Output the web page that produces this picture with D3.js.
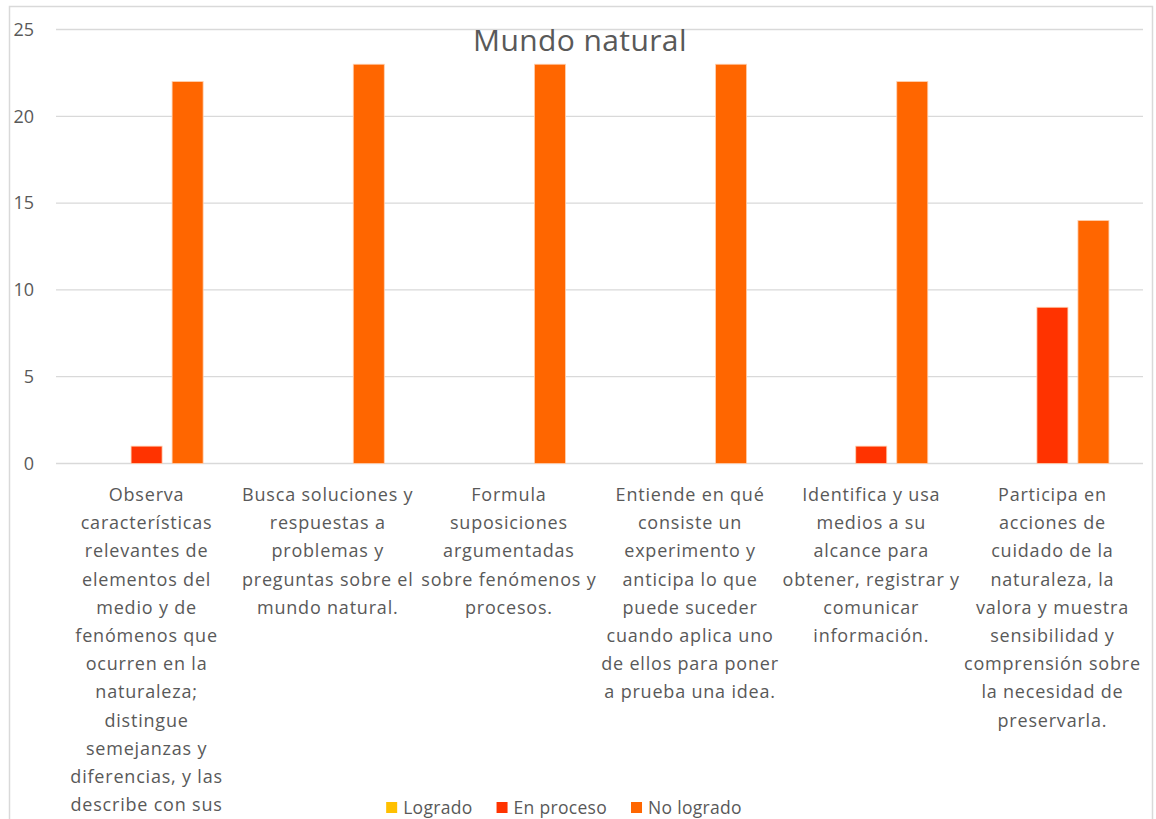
<!DOCTYPE html>
<html>
<head>
<meta charset="utf-8">
<script src="https://cdn.jsdelivr.net/npm/d3@7"></script>
<style>
  body { margin: 0; background: #fff; }
  svg { display: block; font-family: "Open Sans", sans-serif; }
  .grid line { stroke: #d9d9d9; stroke-width: 1.3; }
  .tick-label { fill: #595959; }
</style>
</head>
<body>
<svg id="chart" width="1156" height="819"></svg>
<script>
// Categories (label lines as wrapped in the original chart; the first one runs off the bottom)
const categories = [
  ['Observa', 'características', 'relevantes de', 'elementos del', 'medio y de', 'fenómenos que', 'ocurren en la', 'naturaleza;', 'distingue', 'semejanzas y', 'diferencias, y las', 'describe con sus'],
  ['Busca soluciones y', 'respuestas a', 'problemas y', 'preguntas sobre el', 'mundo natural.'],
  ['Formula', 'suposiciones', 'argumentadas', 'sobre fenómenos y', 'procesos.'],
  ['Entiende en qué', 'consiste un', 'experimento y', 'anticipa lo que', 'puede suceder', 'cuando aplica uno', 'de ellos para poner', 'a prueba una idea.'],
  ['Identifica y usa', 'medios a su', 'alcance para', 'obtener, registrar y', 'comunicar', 'información.'],
  ['Participa en', 'acciones de', 'cuidado de la', 'naturaleza, la', 'valora y muestra', 'sensibilidad y', 'comprensión sobre', 'la necesidad de', 'preservarla.']
];
const seriesNames = ['Logrado', 'En proceso', 'No logrado'];
const seriesColors = ['#FFC000', '#FF3300', '#FF6600'];
const logrado = [0, 0, 0, 0, 0, 0];
const enProceso = [1, 0, 0, 0, 1, 9];
const noLogrado = [22, 23, 23, 23, 22, 14];
const yTicks = [0, 5, 10, 15, 20, 25];

const svg = d3.select('#chart');
const width = 1156, height = 819;

svg.append('rect').attr('width', width).attr('height', height).attr('fill', '#fff');

// chart area border (bottom edge is outside the picture)
svg.append('rect')
  .attr('x', 9.5).attr('y', 6.5)
  .attr('width', 1143).attr('height', 900)
  .attr('fill', 'none').attr('stroke', '#d9d9d9').attr('stroke-width', 1.5);

const ids = categories.map((c, i) => 'c' + i);
const x0 = d3.scaleBand().domain(ids).range([56, 1143]);
const x1 = d3.scaleBand().domain(seriesNames).range([0, x0.bandwidth()])
  .paddingInner(0.244).paddingOuter(0.83);
const y = d3.scaleLinear().domain([0, 25]).range([463.5, 29.5]);

// gridlines
svg.append('g').attr('class', 'grid')
  .selectAll('line').data(yTicks).join('line')
  .attr('x1', 56).attr('x2', 1143)
  .attr('y1', d => y(d)).attr('y2', d => y(d));

// y tick labels
svg.append('g').selectAll('text').data(yTicks).join('text')
  .attr('class', 'tick-label')
  .attr('x', 34).attr('y', d => y(d)).attr('dy', '0.35em')
  .attr('text-anchor', 'end').attr('font-size', 18)
  .text(d => d);

// title
svg.append('text')
  .attr('x', 580).attr('y', 51)
  .attr('text-anchor', 'middle').attr('font-size', 30)
  .attr('letter-spacing', 0.4)
  .attr('fill', '#595959')
  .text('Mundo natural');

// bars
const rows = ids.map((id, i) => ({ id, values: [logrado[i], enProceso[i], noLogrado[i]] }));
const groups = svg.append('g').selectAll('g').data(rows).join('g')
  .attr('transform', d => `translate(${x0(d.id)},0)`);
groups.selectAll('rect')
  .data(d => d.values.map((v, k) => ({ name: seriesNames[k], value: v, color: seriesColors[k] })))
  .join('rect')
  .filter(d => d.value > 0)
  .attr('x', d => x1(d.name))
  .attr('y', d => y(d.value))
  .attr('width', x1.bandwidth())
  .attr('height', d => y(0) - y(d.value))
  .attr('fill', d => d.color)
  .attr('stroke', '#ffd0b0').attr('stroke-width', 0.8);

// category labels
const labels = svg.append('g').selectAll('text').data(categories).join('text')
  .attr('class', 'tick-label')
  .attr('font-size', 18)
  .attr('letter-spacing', 0.8)
  .attr('text-anchor', 'middle')
  .attr('x', (d, i) => x0(ids[i]) + x0.bandwidth() / 2)
  .attr('y', 501);
labels.selectAll('tspan').data(d => d).join('tspan')
  .attr('x', function () { return this.parentNode.getAttribute('x'); })
  .attr('dy', (d, k) => k === 0 ? 0 : 28.2)
  .text(d => d);

// legend
const legend = svg.append('g').attr('transform', 'translate(0,814)');
const items = legend.selectAll('g').data(seriesNames).join('g');
items.append('rect').attr('y', -12).attr('width', 11).attr('height', 11)
  .attr('fill', (d, i) => seriesColors[i]);
items.append('text').attr('x', 17).attr('font-size', 17.5)
  .attr('letter-spacing', 0.3)
  .attr('fill', '#595959').text(d => d);
let widths = [];
items.each(function () { widths.push(this.getBBox().width); });
const gap = 24;
const total = d3.sum(widths) + gap * (widths.length - 1);
let cx = 564 - total / 2;
items.attr('transform', (d, i) => {
  const t = `translate(${cx},0)`;
  cx += widths[i] + gap;
  return t;
});
</script>
</body>
</html>
